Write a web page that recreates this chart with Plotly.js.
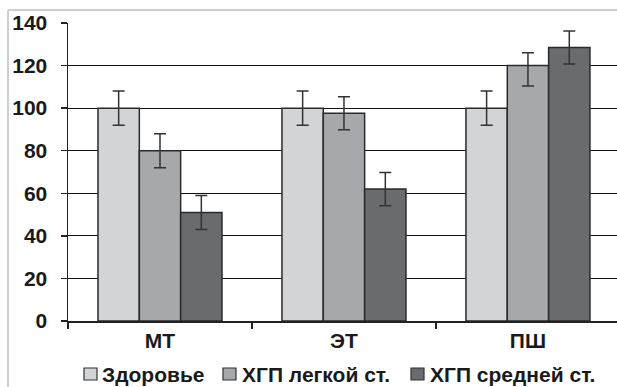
<!DOCTYPE html>
<html>
<head>
<meta charset="utf-8">
<script src="https://cdn.plot.ly/plotly-3.0.1.min.js"></script>
<style>
html,body{margin:0;padding:0;background:#fff;}
#chart{width:617px;height:387px;}
</style>
</head>
<body>
<div id="chart"></div>
<script>
const categories = ["МТ", "ЭТ", "ПШ"];
const seriesNames = ["Здоровье", "ХГП легкой ст.", "ХГП средней ст."];
const healthy = [100, 100, 100];
const healthyErrPlus = [8, 8, 8];
const healthyErrMinus = [8, 8, 8];
const mild = [80, 97.6, 120];
const mildErrPlus = [8, 7.8, 6];
const mildErrMinus = [8, 7.8, 9.6];
const moderate = [51, 62, 128.5];
const moderateErrPlus = [8, 7.8, 7.8];
const moderateErrMinus = [8, 7.8, 7.8];
const yTicks = [0, 20, 40, 60, 80, 100, 120, 140];

const colors = ["#d3d4d6", "#a7a8ac", "#6a6b6f"];
const FONT = "'Liberation Sans', Arial, sans-serif";

// plot geometry in pixels (layout only)
const L = 68, T = 23, PW = 549, PH = 298;
const px2x = p => (p - L) / PW;
const py2y = p => (T + PH - p) / PH;

function mk(name, vals, ep, em, color) {
  return {
    type: "bar", name: name, x: categories, y: vals,
    marker: {color: color, line: {color: "#2a2a2a", width: 1.5}},
    error_y: {type: "data", symmetric: false, array: ep, arrayminus: em,
              color: "#333", thickness: 1.5, width: 6},
    hoverinfo: "skip", showlegend: false
  };
}
const data = [
  mk(seriesNames[0], healthy, healthyErrPlus, healthyErrMinus, colors[0]),
  mk(seriesNames[1], mild, mildErrPlus, mildErrMinus, colors[1]),
  mk(seriesNames[2], moderate, moderateErrPlus, moderateErrMinus, colors[2])
];

// custom legend (layout positions)
const legSquareX = [84, 223, 411];
const legTextX = [100, 240, 428];
const legY = 374;
const shapes = [
  {type: "line", xref: "paper", yref: "paper", x0: px2x(8), x1: 1.2, y0: py2y(10), y1: py2y(10),
   line: {color: "#cfcfcf", width: 2}},
  {type: "line", xref: "paper", yref: "paper", x0: px2x(8), x1: px2x(8), y0: py2y(10), y1: py2y(400),
   line: {color: "#cfcfcf", width: 2}}
];
const annotations = [];
seriesNames.forEach((n, i) => {
  shapes.push({type: "rect", xref: "paper", yref: "paper",
    x0: px2x(legSquareX[i]), x1: px2x(legSquareX[i] + 13),
    y0: py2y(legY - 6), y1: py2y(legY + 6),
    fillcolor: colors[i], line: {color: "#333", width: 1.2}});
  annotations.push({xref: "paper", yref: "paper", x: px2x(legTextX[i]), y: py2y(legY),
    xanchor: "left", yanchor: "middle", showarrow: false, text: n,
    font: {family: FONT, size: 21, color: "#1a1a1a", weight: "bold"}});
});

const layout = {
  width: 617, height: 387,
  margin: {l: L, r: 0, t: T, b: 387 - T - PH},
  paper_bgcolor: "#fff", plot_bgcolor: "#fff",
  font: {family: FONT, color: "#1a1a1a"},
  barmode: "group", bargap: 0.326, bargroupgap: 0,
  showlegend: false,
  xaxis: {
    range: [-0.5, 2.484], tickson: "boundaries", ticks: "outside", ticklen: 6,
    tickcolor: "#222", tickwidth: 1.5, showline: true, linecolor: "#222", linewidth: 1.5,
    showgrid: false, zeroline: false, automargin: false,
    tickfont: {family: FONT, size: 21, color: "#1a1a1a", weight: "bold"}
  },
  yaxis: {
    range: [0, 140], tickvals: yTicks, ticks: "outside", ticklen: 6,
    tickcolor: "#222", tickwidth: 1.5, showline: true, linecolor: "#222", linewidth: 1.5,
    showgrid: true, gridcolor: "#111", gridwidth: 1, zeroline: false, automargin: false,
    ticklabelstandoff: 9,
    tickfont: {family: FONT, size: 21, color: "#1a1a1a", weight: "bold"}
  },
  shapes: shapes,
  annotations: annotations
};

Plotly.newPlot("chart", data, layout, {staticPlot: true, displayModeBar: false});
</script>
</body>
</html>
